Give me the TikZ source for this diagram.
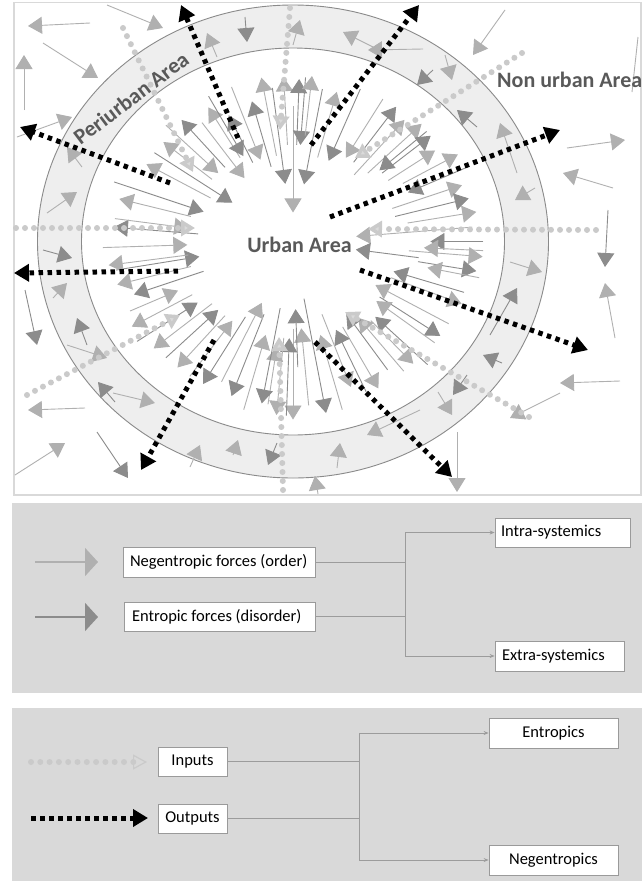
\documentclass[tikz,border=0pt]{standalone}
\usepackage{fontspec}
\setmainfont{Carlito}
\usetikzlibrary{arrows.meta}
\definecolor{la}{HTML}{B0B0B0}
\definecolor{da}{HTML}{8C8C8C}
\definecolor{ringfill}{HTML}{EEEEEE}
\definecolor{ringline}{HTML}{8A8A8A}
\definecolor{panel}{HTML}{D9D9D9}
\definecolor{inp}{HTML}{CACACA}
\definecolor{txtgray}{HTML}{595959}
\definecolor{boxline}{HTML}{9A9A9A}
\definecolor{conn}{HTML}{9C9C9C}
\tikzset{
  ga/.style={draw=#1, line width=0.9pt, -{Triangle[length=14pt,width=17pt]}},
  outarr/.style={draw=black, line width=5pt, dash pattern=on 4.5pt off 4.5pt, -{Triangle[length=15pt,width=17pt]}},
  inarr/.style={draw=inp, line width=6pt, line cap=round, dash pattern=on 0pt off 9pt, -{Triangle[length=14pt,width=16pt,fill=inp!70!white]}},
  lbl/.style={font=\bfseries\fontsize{22}{26}\selectfont, text=txtgray, inner sep=0pt},
  legbox/.style={draw=boxline, fill=white, line width=0.8pt, font=\fontsize{16.5}{19}\selectfont, inner sep=0pt, text=black},
  connline/.style={draw=conn, line width=0.8pt},
  connarr/.style={draw=conn, line width=0.8pt, -{Stealth[length=5pt,width=4pt]}}
}
\newcommand\leftin[2]{\makebox[#1][l]{#2}}
\begin{document}
\begin{tikzpicture}[x=1pt,y=-1pt]
\useasboundingbox (0,0) rectangle (642,881);
\fill[white] (0,0) rectangle (642,881);
% ---------- top panel ----------
\draw[draw=black!15, line width=1.2pt] (14,2.5) rectangle (641,495);
\fill[ringfill] (293,241.5) ellipse [x radius=255.5pt, y radius=236.5pt];
\fill[white] (293,241.5) ellipse [x radius=211.5pt, y radius=193.5pt];
\draw[ringline, line width=0.9pt] (293,241.5) ellipse [x radius=255.5pt, y radius=236.5pt];
\draw[ringline, line width=0.9pt] (293,241.5) ellipse [x radius=211.5pt, y radius=193.5pt];
% inner radial forces
\foreach \t/\a/\b/\c in {
 -125/.75/.4/la, -120/.5/.8/la, -115/.45/.72/da, -110/.85/.45/la, -105/.40/.75/da,
 -100/.45/.86/la, -97/.8/.3/da, -93/.5/.85/la, -90/.7/.15/la, -88/.5/.84/da,
 -86/.85/.5/da, -84/.55/.86/la, -80/.8/.3/da,
 -75/.45/.8/la, -68/.85/.45/da, -60/.85/.5/la, -55/.5/.85/da, -50/.45/.82/la,
 -45/.5/.86/la, -42/.85/.55/da, -40/.55/.85/da, -35/.55/.82/la, -30/.6/.9/la,
 -25/.9/.6/da, -20/.5/.85/la,
 -15/.5/.86/da, -10/.55/.88/la, -5/.85/.3/la, 0/.9/.65/da, 3/.9/.62/la, 5/.55/.9/la,
 8/.6/.3/da, 10/.6/.88/da, 12/.9/.65/la, 18/.85/.5/da, 22/.5/.86/la,
 30/.85/.45/la, 35/.5/.85/da, 38/.85/.5/la, 45/.9/.55/da, 48/.55/.85/la,
 52/.85/.5/la, 56/.8/.45/da, 62/.5/.86/la, 66/.85/.5/da, 70/.4/.8/la,
 75/.9/.5/la, 80/.3/.9/da, 85/.85/.45/la, 88/.65/.35/da, 90/.45/.92/la,
 92/.9/.5/da, 95/.5/.9/la, 98/.85/.55/la, 100/.35/.85/da, 105/.9/.5/la, 110/.4/.85/da,
 115/.8/.35/la, 120/.45/.85/da, 125/.85/.5/la, 130/.5/.85/la, 135/.85/.5/da,
 140/.5/.86/la, 145/.9/.55/da, 150/.55/.88/la, 155/.85/.6/la,
 160/.45/.8/da, 165/.5/.86/la, 170/.85/.45/da, 172/.5/.88/la, 178/.9/.5/la,
 185/.45/.85/da, 188/.85/.5/la, 195/.5/.85/la, 200/.9/.45/da,
 -150/.45/.8/la, -145/.8/.35/da, -140/.5/.8/la, -135/.85/.5/la, -130/.5/.82/da,
 -118/.85/.5/da}
{\draw[ga=\c] ({293+211.5*\a*cos(\t)},{241.5+193.5*\a*sin(\t)}) -- ({293+211.5*\b*cos(\t)},{241.5+193.5*\b*sin(\t)});}
% ring and outside forces
\foreach \xa/\ya/\xb/\yb/\c in {
 90/23/28/26/la, 43/43/98/78/la, 107/5/163/28/la, 24/110/24/55/la, 505/10/473/55/la,
 567/148/625/140/la, 613/188/563/173/la, 608/210/605/267/da, 615/338/605/283/la,
 25/290/37/345/da, 85/408/28/410/la, 15/475/65/443/la, 97/432/128/478/da,
 620/381/560/383/la, 560/393/510/418/la, 457/432/457/492/la, 318/494/315/476/la,
 17/137/72/117/la, 82/167/67/147/la, 47/213/77/192/la, 217/57/207/33/la,
 245/17/247/42/da, 293/45/300/20/la, 373/47/343/32/la, 423/49/368/50/la,
 433/70/417/85/da, 445/55/452/80/la, 477/127/457/110/da, 517/173/500/123/la,
 535/188/515/200/la, 510/262/542/272/la, 490/335/517/288/da, 502/363/483/355/da,
 467/375/453/395/da, 438/392/452/415/la, 420/410/367/435/la, 337/468/340/443/la,
 43/250/72/258/da, 53/298/67/283/la, 87/345/77/318/da, 67/345/107/358/la,
 115/402/98/382/da, 113/393/155/403/la, 190/467/200/445/la, 233/455/238/440/la,
 277/443/268/465/da}
{\draw[ga=\c] (\xa,\ya) -- (\xb,\yb);}
\draw[la, line width=0.9pt] (638,37) -- (632,92);
% inputs (dotted light)
\foreach \xa/\ya/\xb/\yb in {
 16/228/195/228, 290/8/280/130, 123/28/193/172, 522/53/355/158,
 596/230/368/229, 27/395/180/315, 283/490/279/337, 529/417/345/312}
{\draw[inarr] (\xa,\ya) -- (\xb,\yb);}
% outputs (black dotted)
\foreach \xa/\ya/\xb/\yb in {
 238/138/181/5, 311/145/419/5, 170/183/20/127, 330/217/560/130,
 178/271/14/273, 360/270/588/350, 214/340/141/470, 315/342/452/477}
{\draw[outarr] (\xa,\ya) -- (\xb,\yb);}
% labels
\node[lbl] (urban) at (299.5,244.5) {Urban Area};
\node[lbl, rotate=37] (peri) at (131,98) {Periurban Area};
\node[lbl, anchor=west] (nonurban) at (497,79.5) {Non urban Area};
% ---------- legend panel 1 ----------
\fill[panel] (12,503) rectangle (642,693);
\coordinate (n0) at (35,562);
\coordinate (n1) at (98,562);
\coordinate (e0) at (35,617);
\coordinate (e1) at (98,617);
\draw[la, line width=2pt, -{Triangle[length=13pt,width=28pt]}] (n0) -- (n1);
\draw[da, line width=2pt, -{Triangle[length=13pt,width=28pt]}] (e0) -- (e1);
\node[legbox, minimum height=30pt] (neg) at (219,562) {\leftin{192pt}{\hspace{7pt}Negentropic forces (order)}};
\node[legbox, minimum height=29pt] (ent) at (219.5,616.5) {\leftin{191pt}{\hspace{8pt}Entropic forces (disorder)}};
\node[legbox, minimum height=29pt] (intra) at (562.5,532.5) {\leftin{135pt}{\hspace{6pt}Intra-systemics}};
\node[legbox, minimum height=30pt] (extra) at (559.5,656) {\leftin{129pt}{\hspace{7pt}Extra-systemics}};
\coordinate (j1) at (405,562);
\draw[connline] (neg.east) -- (neg.east -| j1);
\draw[connline] (ent.east) -- (ent.east -| j1);
\draw[connline] (j1 |- intra.west) -- (j1 |- extra.west);
\draw[connarr] (j1 |- intra.west) -- (intra.west);
\draw[connarr] (j1 |- extra.west) -- (extra.west);
% ---------- legend panel 2 ----------
\fill[panel] (12,708) rectangle (642,881);
\coordinate (i0) at (31,762);
\coordinate (i1) at (147,762);
\coordinate (o0) at (31,818);
\coordinate (o1) at (148,818);
\draw[draw=inp, line width=6pt, line cap=round, dash pattern=on 0pt off 9.3pt, -{Triangle[open, length=14pt, width=15pt, line width=1.2pt]}] (i0) -- (i1);
\draw[outarr] (o0) -- (o1);
\node[legbox, minimum width=69pt, minimum height=29pt] (inputs) at (192.5,761.5) {Inputs};
\node[legbox, minimum width=69pt, minimum height=29pt] (outputs) at (192.5,818.5) {Outputs};
\node[legbox, minimum width=129pt, minimum height=30pt] (entropics) at (553.5,733) {Entropics};
\node[legbox, minimum width=129pt, minimum height=30pt] (negentropics) at (553.5,860) {Negentropics};
\coordinate (j2) at (359,790);
\draw[connline] (inputs.east) -- (inputs.east -| j2);
\draw[connline] (outputs.east) -- (outputs.east -| j2);
\draw[connline] (j2 |- entropics.west) -- (j2 |- negentropics.west);
\draw[connarr] (j2 |- entropics.west) -- (entropics.west);
\draw[connarr] (j2 |- negentropics.west) -- (negentropics.west);
\end{tikzpicture}
\end{document}
